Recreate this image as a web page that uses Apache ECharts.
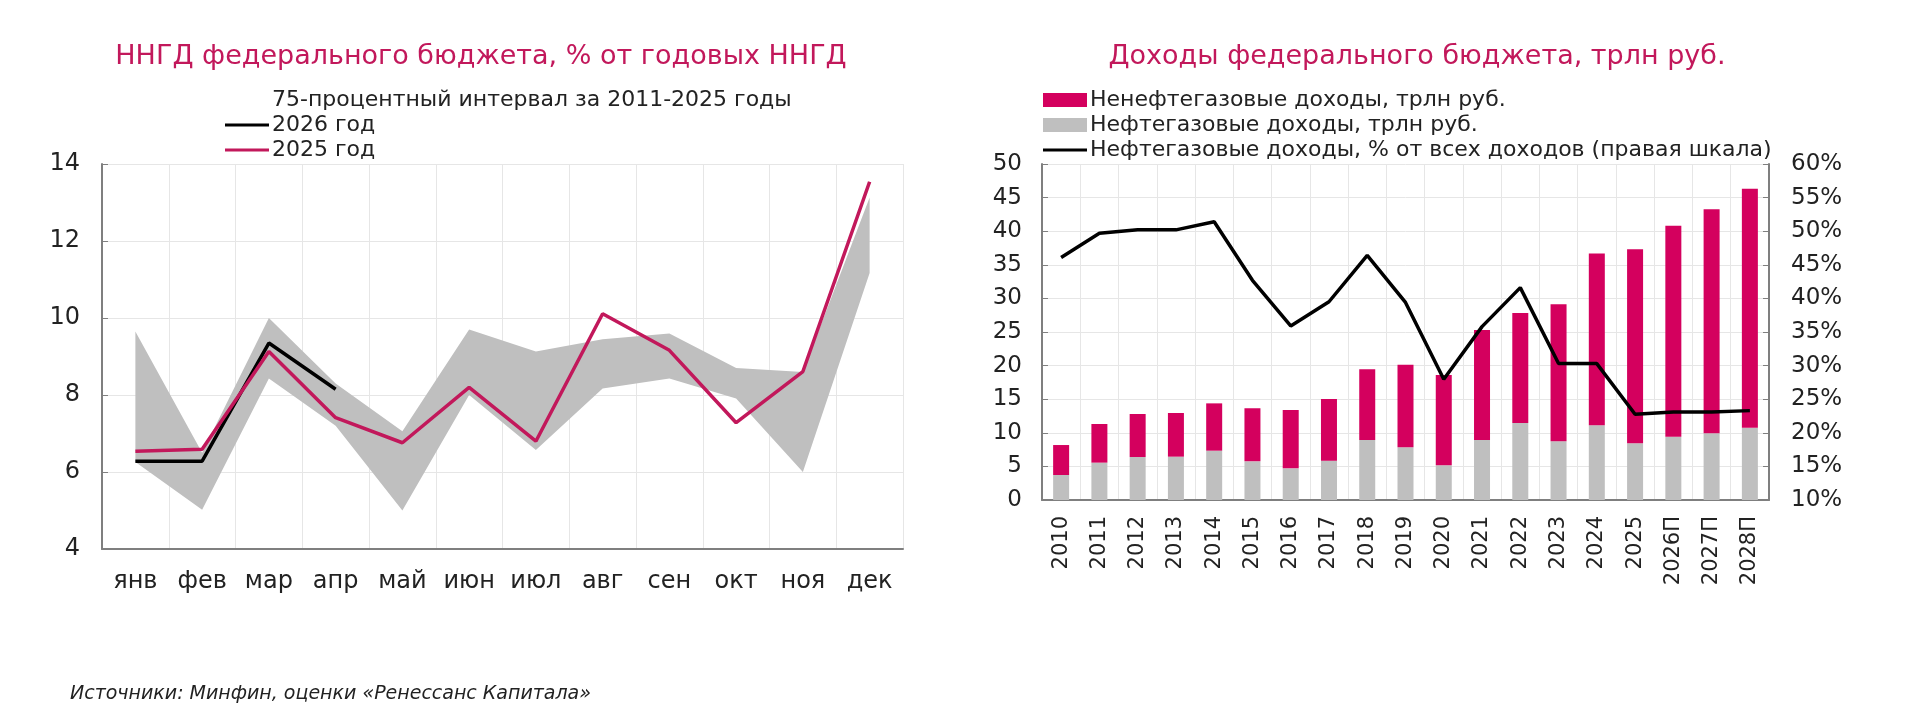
<!DOCTYPE html>
<html>
<head>
<meta charset="utf-8">
<script src="https://cdn.jsdelivr.net/npm/echarts@6/dist/echarts.min.js"></script>
<style>
  html, body { margin: 0; padding: 0; background: #fff; }
  #chart { width: 1920px; height: 712px; }
</style>
</head>
<body>
<div id="chart"></div>
<script>
// left chart: monthly revenue share
const months = ['янв', 'фев', 'мар', 'апр', 'май', 'июн', 'июл', 'авг', 'сен', 'окт', 'ноя', 'дек'];
const bandLow = [6.26, 5.02, 8.43, 7.2, 5.0, 8.0, 6.57, 8.17, 8.43, 7.91, 6.0, 11.17];
const bandHigh = [9.65, 6.5, 10.0, 8.3, 7.06, 9.7, 9.13, 9.45, 9.6, 8.7, 8.6, 13.13];
const y2026 = [6.28, 6.28, 9.35, 8.15];
const y2025 = [6.54, 6.59, 9.13, 7.41, 6.76, 8.2, 6.8, 10.11, 9.16, 7.28, 8.61, 13.54];

// right chart: federal budget revenue
const years = ['2010', '2011', '2012', '2013', '2014', '2015', '2016', '2017', '2018', '2019',
  '2020', '2021', '2022', '2023', '2024', '2025', '2026П', '2027П', '2028П'];
const oilGas = [3.72, 5.56, 6.4, 6.45, 7.34, 5.75, 4.71, 5.85, 8.93, 7.84,
  5.16, 8.93, 11.46, 8.73, 11.11, 8.43, 9.42, 9.92, 10.76];
const nonOilGas = [4.46, 5.75, 6.4, 6.5, 7.04, 7.89, 8.68, 9.18, 10.51, 12.3,
  13.44, 16.37, 16.37, 20.39, 25.59, 28.87, 31.4, 33.33, 35.57];
const oilGasShare = [46.1, 49.7, 50.2, 50.2, 51.4, 42.7, 35.9, 39.5, 46.4, 39.4,
  27.96, 35.8, 41.6, 30.3, 30.3, 22.75, 23.1, 23.1, 23.3];

const FONT = 'DejaVu Sans';
const TXT = '#222';
const PINK = '#d4005e';
const PINK_LINE = '#c2185b';
const GRAY = '#bfbfbf';
const GRID = '#e6e6e6';
const AXIS = '#7f7f7f';
// thin bar used as legend icon for the line series
const LINE_ICON = 'path://M0,0H44V3.2H0Z';

const chart = echarts.init(document.getElementById('chart'));

const bandDiff = bandHigh.map((v, i) => +(v - bandLow[i]).toFixed(2));

const legendText = { fontSize: 22, lineHeight: 22, color: TXT, fontFamily: FONT, padding: [0, 0, 0, -2] };

const option = {
  animation: false,
  textStyle: { fontFamily: FONT, color: TXT },
  graphic: [
    {
      type: 'text', x: 481, y: 43,
      style: { text: 'ННГД федерального бюджета, % от годовых ННГД', font: '27px "DejaVu Sans"', fill: PINK_LINE, textAlign: 'center' }
    },
    {
      type: 'text', x: 1417, y: 43,
      style: { text: 'Доходы федерального бюджета, трлн руб.', font: '27px "DejaVu Sans"', fill: PINK_LINE, textAlign: 'center' }
    },
    {
      type: 'text', x: 70, y: 685,
      style: { text: 'Источники: Минфин, оценки «Ренессанс Капитала»', font: 'italic 19px "DejaVu Sans"', fill: TXT }
    }
  ],
  legend: [
    {
      left: 220, top: 84, orient: 'vertical',
      itemWidth: 44, itemHeight: 14, itemGap: 3,
      textStyle: legendText,
      data: [
        { name: '75-процентный интервал за 2011-2025 годы', icon: 'none' },
        { name: '2026 год', icon: LINE_ICON },
        { name: '2025 год', icon: LINE_ICON }
      ]
    },
    {
      left: 1038, top: 84, orient: 'vertical',
      itemWidth: 44, itemHeight: 14, itemGap: 3,
      textStyle: legendText,
      data: [
        { name: 'Ненефтегазовые доходы, трлн руб.', icon: 'rect' },
        { name: 'Нефтегазовые доходы, трлн руб.', icon: 'rect' },
        { name: 'Нефтегазовые доходы, % от всех доходов (правая шкала)', icon: LINE_ICON }
      ]
    }
  ],
  grid: [
    { left: 102, top: 164, width: 801, height: 385 },
    { left: 1042, top: 164, width: 727, height: 336 }
  ],
  xAxis: [
    {
      gridIndex: 0, type: 'category', data: months, boundaryGap: true,
      axisLine: { lineStyle: { color: AXIS, width: 2 } },
      axisTick: { show: false },
      axisLabel: { fontSize: 24, color: TXT, margin: 21, interval: 0 },
      splitLine: { show: true, interval: 0, lineStyle: { color: GRID, width: 1 } }
    },
    {
      gridIndex: 1, type: 'category', data: years, boundaryGap: true,
      axisLine: { lineStyle: { color: AXIS, width: 2 } },
      axisTick: { show: false },
      axisLabel: { fontSize: 21, color: TXT, rotate: 90, margin: 16, interval: 0 },
      splitLine: { show: true, interval: 0, lineStyle: { color: GRID, width: 1 } }
    }
  ],
  yAxis: [
    {
      gridIndex: 0, type: 'value', min: 4, max: 14, interval: 2,
      axisLine: { show: true, lineStyle: { color: AXIS, width: 2 } },
      axisTick: { show: true, inside: true, length: 6, lineStyle: { color: AXIS } },
      axisLabel: { fontSize: 24, color: TXT, margin: 22 },
      splitLine: { lineStyle: { color: GRID, width: 1 } }
    },
    {
      gridIndex: 1, type: 'value', min: 0, max: 50, interval: 5,
      axisLine: { show: true, lineStyle: { color: AXIS, width: 2 } },
      axisTick: { show: true, inside: true, length: 6, lineStyle: { color: AXIS } },
      axisLabel: { fontSize: 23, color: TXT, margin: 20 },
      splitLine: { lineStyle: { color: GRID, width: 1 } }
    },
    {
      gridIndex: 1, type: 'value', position: 'right', min: 10, max: 60, interval: 5,
      axisLine: { show: true, lineStyle: { color: AXIS, width: 2 } },
      axisTick: { show: true, inside: true, length: 6, lineStyle: { color: AXIS } },
      axisLabel: { fontSize: 23, color: TXT, margin: 22, formatter: '{value}%' },
      splitLine: { show: false }
    }
  ],
  series: [
    {
      name: 'bandBase', type: 'line', xAxisIndex: 0, yAxisIndex: 0,
      stack: 'band', data: bandLow, symbol: 'none', silent: true,
      lineStyle: { width: 0, opacity: 0 }
    },
    {
      name: '75-процентный интервал за 2011-2025 годы', type: 'line', xAxisIndex: 0, yAxisIndex: 0,
      stack: 'band', data: bandDiff, symbol: 'none',
      lineStyle: { width: 0, opacity: 0 },
      areaStyle: { color: GRAY, opacity: 1 },
      itemStyle: { color: GRAY }
    },
    {
      name: '2026 год', type: 'line', xAxisIndex: 0, yAxisIndex: 0,
      data: y2026, symbol: 'none', z: 4,
      lineStyle: { color: '#000', width: 3.5 }, itemStyle: { color: '#000' }
    },
    {
      name: '2025 год', type: 'line', xAxisIndex: 0, yAxisIndex: 0,
      data: y2025, symbol: 'none', z: 5,
      lineStyle: { color: PINK_LINE, width: 3.5 }, itemStyle: { color: PINK_LINE }
    },
    {
      name: 'Нефтегазовые доходы, трлн руб.', type: 'bar', xAxisIndex: 1, yAxisIndex: 1,
      stack: 'rev', data: oilGas, barWidth: 16,
      itemStyle: { color: GRAY }
    },
    {
      name: 'Ненефтегазовые доходы, трлн руб.', type: 'bar', xAxisIndex: 1, yAxisIndex: 1,
      stack: 'rev', data: nonOilGas, barWidth: 16,
      itemStyle: { color: PINK }
    },
    {
      name: 'Нефтегазовые доходы, % от всех доходов (правая шкала)', type: 'line', xAxisIndex: 1, yAxisIndex: 2,
      data: oilGasShare, symbol: 'none', z: 5,
      lineStyle: { color: '#000', width: 3.5 }, itemStyle: { color: '#000' }
    }
  ]
};

chart.setOption(option);
</script>
</body>
</html>
